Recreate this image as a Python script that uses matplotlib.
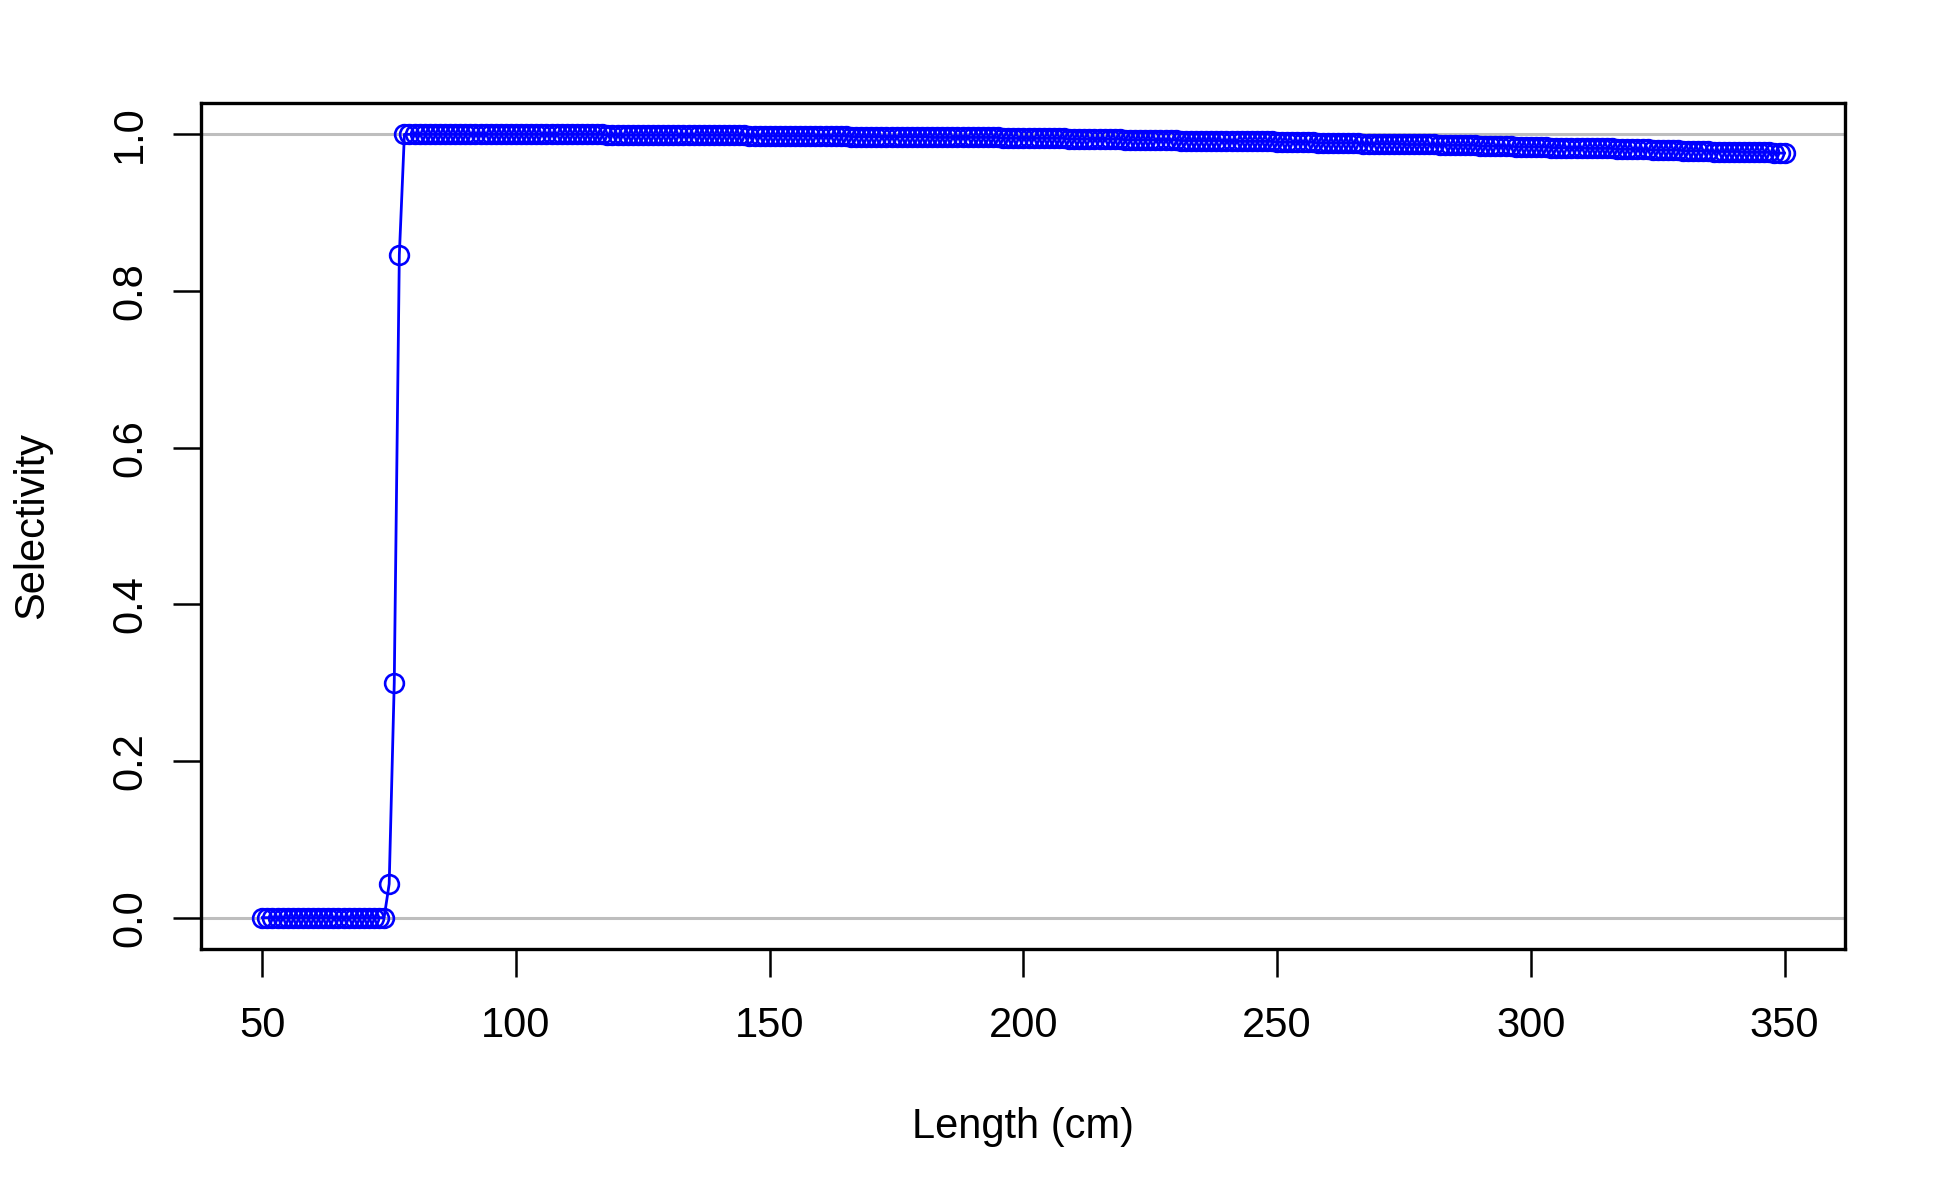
import numpy as np
import matplotlib
matplotlib.use("Agg")
import matplotlib.pyplot as plt

plt.rcParams['font.family'] = ['Liberation Sans', 'DejaVu Sans']

# length classes (cm), one point per cm
lengths = np.arange(50, 351)

# selectivity, rows of 10 cm (50-59, 60-69, ...)
selectivity = [
    0.0, 0.0, 0.0, 0.0, 0.0, 0.0, 0.0, 0.0, 0.0, 0.0,
    0.0, 0.0, 0.0, 0.0, 0.0, 0.0, 0.0, 0.0, 0.0, 0.0,
    0.0, 0.0, 0.0, 0.0, 0.0, 0.043, 0.300, 0.846, 1.000, 1.000,
    1.000, 1.000, 1.000, 1.000, 1.000, 1.000, 1.000, 1.000, 1.000, 1.000,
    1.000, 1.000, 1.000, 1.000, 1.000, 1.000, 1.000, 1.000, 1.000, 1.000,
    1.000, 1.000, 1.000, 1.000, 1.000, 1.000, 1.000, 1.000, 1.000, 1.000,
    1.000, 1.000, 1.000, 1.000, 1.000, 1.000, 1.000, 1.000, 0.999, 0.999,
    0.999, 0.999, 0.999, 0.999, 0.999, 0.999, 0.999, 0.999, 0.999, 0.999,
    0.999, 0.999, 0.999, 0.999, 0.999, 0.999, 0.999, 0.999, 0.999, 0.999,
    0.999, 0.999, 0.999, 0.999, 0.999, 0.999, 0.998, 0.998, 0.998, 0.998,
    0.998, 0.998, 0.998, 0.998, 0.998, 0.998, 0.998, 0.998, 0.998, 0.998,
    0.998, 0.998, 0.998, 0.998, 0.998, 0.998, 0.997, 0.997, 0.997, 0.997,
    0.997, 0.997, 0.997, 0.997, 0.997, 0.997, 0.997, 0.997, 0.997, 0.997,
    0.997, 0.997, 0.996, 0.996, 0.996, 0.996, 0.996, 0.996, 0.996, 0.996,
    0.996, 0.996, 0.996, 0.996, 0.996, 0.996, 0.995, 0.995, 0.995, 0.995,
    0.995, 0.995, 0.995, 0.995, 0.995, 0.995, 0.995, 0.995, 0.995, 0.994,
    0.994, 0.994, 0.994, 0.994, 0.994, 0.994, 0.994, 0.994, 0.994, 0.994,
    0.993, 0.993, 0.993, 0.993, 0.993, 0.993, 0.993, 0.993, 0.993, 0.993,
    0.993, 0.992, 0.992, 0.992, 0.992, 0.992, 0.992, 0.992, 0.992, 0.992,
    0.991, 0.991, 0.991, 0.991, 0.991, 0.991, 0.991, 0.991, 0.991, 0.991,
    0.990, 0.990, 0.990, 0.990, 0.990, 0.990, 0.990, 0.990, 0.989, 0.989,
    0.989, 0.989, 0.989, 0.989, 0.989, 0.989, 0.989, 0.988, 0.988, 0.988,
    0.988, 0.988, 0.988, 0.988, 0.988, 0.987, 0.987, 0.987, 0.987, 0.987,
    0.987, 0.987, 0.986, 0.986, 0.986, 0.986, 0.986, 0.986, 0.986, 0.986,
    0.985, 0.985, 0.985, 0.985, 0.985, 0.985, 0.985, 0.984, 0.984, 0.984,
    0.984, 0.984, 0.984, 0.984, 0.983, 0.983, 0.983, 0.983, 0.983, 0.983,
    0.983, 0.982, 0.982, 0.982, 0.982, 0.982, 0.982, 0.981, 0.981, 0.981,
    0.981, 0.981, 0.981, 0.981, 0.980, 0.980, 0.980, 0.980, 0.980, 0.980,
    0.979, 0.979, 0.979, 0.979, 0.979, 0.979, 0.978, 0.978, 0.978, 0.978,
    0.978, 0.978, 0.977, 0.977, 0.977, 0.977, 0.977, 0.977, 0.976, 0.976,
    0.976,
]

x_ticks = [50, 100, 150, 200, 250, 300, 350]
y_ticks = [0.0, 0.2, 0.4, 0.6, 0.8, 1.0]

fig = plt.figure(figsize=(19.5, 12), dpi=100)
ax = fig.add_axes([0.1033, 0.2092, 0.8431, 0.705])

# reference lines at 0 and 1
for h in [0, 1]:
    ax.axhline(h, color='#BEBEBE', linewidth=2.2, zorder=1)

ax.plot(lengths, selectivity, color='#0000FF', linewidth=2.0,
        marker='o', markersize=13.5, markerfacecolor='none',
        markeredgecolor='#0000FF', markeredgewidth=1.9, zorder=3)

ax.set_xlim(38, 362)
ax.set_ylim(-0.04, 1.04)
ax.set_xticks(x_ticks)
ax.set_xticklabels([str(t) for t in x_ticks])
ax.set_yticks(y_ticks)
ax.set_yticklabels([f'{t:.1f}' for t in y_ticks], rotation=90, va='center')

ax.tick_params(axis='both', labelsize=30, length=20, width=1.8, color='black')
ax.tick_params(axis='x', pad=21)
ax.tick_params(axis='y', pad=17)
for s in ax.spines.values():
    s.set_linewidth(2.4)

ax.set_xlabel('Length (cm)', fontsize=30, labelpad=44)
ax.set_ylabel('Selectivity', fontsize=30, labelpad=42)

plt.savefig('out.png', dpi=100)
